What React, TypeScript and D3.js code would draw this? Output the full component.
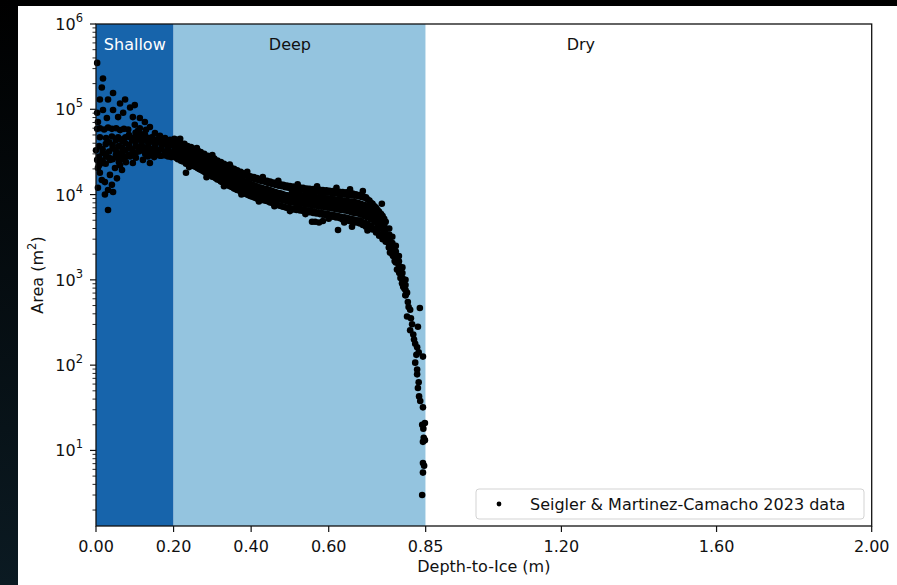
import React, { useEffect } from "react";
import * as d3 from "d3";

// zones along depth-to-ice
const zoneNames = ["Shallow", "Deep", "Dry"];
const zoneEdges = [0, 0.2, 0.85, 2.0];
const zoneLabelAt = [0.1, 0.5, 1.25];

const xTicks = [0, 0.2, 0.4, 0.6, 0.85, 1.2, 1.6, 2.0];
const yExponents = [1, 2, 3, 4, 5, 6];

const legendLabel = "Seigler & Martinez-Camacho 2023 data";

// main band: depth (m) -> areas (m^2)
const bandDepths = [
  0.008, 0.017, 0.025, 0.034, 0.043, 0.051, 0.059, 0.068, 0.076, 0.085,
  0.093, 0.102, 0.11, 0.118, 0.127, 0.135, 0.144, 0.152, 0.161, 0.169,
  0.178, 0.186, 0.194,
  0.202, 0.206, 0.211, 0.215, 0.219, 0.224, 0.228, 0.232, 0.236, 0.241,
  0.245, 0.249, 0.253, 0.258, 0.262, 0.266, 0.27, 0.275, 0.279, 0.283,
  0.288, 0.292, 0.296, 0.3, 0.305, 0.309, 0.313, 0.318, 0.322, 0.326,
  0.33, 0.335, 0.339, 0.343, 0.347, 0.352, 0.356, 0.36, 0.364, 0.369,
  0.373, 0.377, 0.381, 0.386, 0.39, 0.394, 0.398, 0.403, 0.407, 0.411,
  0.415, 0.42, 0.424, 0.428, 0.432, 0.437, 0.441, 0.445, 0.449, 0.454,
  0.458, 0.462, 0.466, 0.471, 0.475, 0.479, 0.483, 0.488, 0.492, 0.496,
  0.5, 0.505, 0.509, 0.513, 0.517, 0.522, 0.526, 0.53, 0.534, 0.539,
  0.543, 0.547, 0.551, 0.556, 0.56, 0.564, 0.568, 0.573, 0.577, 0.581,
  0.585, 0.59, 0.594, 0.598, 0.602, 0.607, 0.611, 0.615, 0.619, 0.624,
  0.628, 0.632, 0.636, 0.641, 0.645, 0.649, 0.653, 0.658, 0.662, 0.666,
  0.67, 0.675, 0.679, 0.683, 0.688, 0.692, 0.696, 0.7, 0.705, 0.709,
  0.713, 0.718, 0.722, 0.726, 0.73, 0.735, 0.739, 0.743, 0.747,
  0.756, 0.764, 0.773, 0.781, 0.79, 0.798,
];
const bandAreas = [
  [3.7e4, 2.8e4, 2.2e4], [3.4e4, 3.1e4, 2.5e4], [3.9e4, 3.0e4, 2.3e4],
  [4.1e4, 3.2e4, 2.7e4], [3.8e4, 3.5e4, 2.6e4], [4.3e4, 3.3e4, 2.9e4],
  [4.5e4, 3.7e4, 3.0e4, 2.4e4], [4.2e4, 3.5e4, 3.2e4, 2.6e4], [4.7e4, 4.0e4, 3.3e4, 2.8e4],
  [5.0e4, 3.8e4, 3.5e4, 2.9e4], [4.6e4, 4.3e4, 3.4e4, 3.0e4], [5.3e4, 4.1e4, 3.7e4, 3.1e4],
  [4.9e4, 4.5e4, 3.6e4, 3.2e4], [5.1e4, 4.2e4, 3.8e4, 3.3e4], [4.8e4, 4.4e4, 3.5e4, 3.0e4],
  [4.6e4, 4.0e4, 3.7e4, 3.2e4], [4.7e4, 4.2e4, 3.4e4, 3.0e4], [4.4e4, 3.9e4, 3.6e4, 3.1e4],
  [4.5e4, 4.1e4, 3.3e4, 2.95e4], [4.3e4, 3.7e4, 3.4e4, 2.85e4], [4.4e4, 3.9e4, 3.2e4, 2.9e4],
  [4.1e4, 3.6e4, 3.3e4, 2.8e4], [4.2e4, 3.8e4, 3.1e4, 2.75e4],
  [4.5e4, 3.9e4, 3.3e4, 2.9e4], [4.2e4, 3.6e4, 3.1e4, 2.7e4], [4.4e4, 3.5e4, 3.2e4, 2.6e4, 2.9e4],
  [3.9e4, 3.3e4, 2.75e4], [4.0e4, 3.6e4, 3.0e4, 2.5e4], [3.7e4, 3.2e4, 2.8e4, 2.45e4],
  [3.95e4, 3.3e4, 2.9e4, 2.6e4], [3.5e4, 3.1e4, 2.65e4, 2.3e4], [3.7e4, 3.25e4, 2.85e4, 2.4e4],
  [3.4e4, 3.0e4, 2.6e4, 2.25e4], [3.6e4, 3.05e4, 2.7e4, 2.35e4], [3.3e4, 2.9e4, 2.5e4, 2.2e4],
  [3.45e4, 3.0e4, 2.55e4, 2.15e4], [3.2e4, 2.75e4, 2.4e4, 2.1e4], [3.3e4, 2.85e4, 2.45e4, 2.05e4],
  [3.05e4, 2.65e4, 2.3e4, 2.0e4], [3.15e4, 2.7e4, 2.35e4, 1.95e4], [2.9e4, 2.55e4, 2.2e4, 1.9e4],
  [3.0e4, 2.6e4, 2.25e4, 1.85e4], [2.8e4, 2.4e4, 2.1e4, 1.8e4], [2.85e4, 2.5e4, 2.15e4, 1.75e4],
  [2.7e4, 2.3e4, 2.0e4, 1.7e4], [2.75e4, 2.4e4, 2.05e4, 1.68e4], [2.55e4, 2.2e4, 1.9e4, 1.62e4],
  [2.65e4, 2.3e4, 1.95e4, 1.6e4], [2.45e4, 2.1e4, 1.8e4, 1.55e4], [2.5e4, 2.15e4, 1.85e4, 1.5e4],
  [2.35e4, 2.0e4, 1.75e4, 1.48e4], [2.4e4, 2.05e4, 1.7e4, 1.42e4], [2.25e4, 1.95e4, 1.65e4, 1.4e4],
  [2.3e4, 1.9e4, 1.6e4, 1.35e4], [2.15e4, 1.85e4, 1.58e4, 1.33e4], [2.2e4, 1.8e4, 1.52e4, 1.3e4],
  [2.05e4, 1.75e4, 1.5e4, 1.27e4], [2.1e4, 1.72e4, 1.45e4, 1.24e4], [1.95e4, 1.68e4, 1.42e4, 1.22e4],
  [2.0e4, 1.62e4, 1.4e4, 1.18e4], [1.88e4, 1.6e4, 1.36e4, 1.16e4], [1.92e4, 1.55e4, 1.32e4, 1.13e4],
  [1.8e4, 1.52e4, 1.3e4, 1.12e4], [1.85e4, 1.5e4, 1.27e4, 1.08e4], [1.72e4, 1.46e4, 1.25e4, 1.06e4],
  [1.78e4, 1.42e4, 1.22e4, 1.04e4], [1.66e4, 1.4e4, 1.2e4, 1.02e4], [1.7e4, 1.38e4, 1.17e4, 1.0e4],
  [1.6e4, 1.35e4, 1.15e4, 9.8e3], [1.64e4, 1.33e4, 1.13e4, 9.6e3], [1.55e4, 1.3e4, 1.1e4, 9.5e3],
  [1.6e4, 1.28e4, 1.08e4, 9.3e3], [1.5e4, 1.26e4, 1.07e4, 9.2e3], [1.56e4, 1.24e4, 1.05e4, 9.0e3],
  [1.46e4, 1.22e4, 1.04e4, 8.9e3], [1.52e4, 1.2e4, 1.02e4, 8.8e3], [1.43e4, 1.19e4, 1.01e4, 8.7e3],
  [1.48e4, 1.17e4, 1.0e4, 8.6e3], [1.4e4, 1.16e4, 9.9e3, 8.5e3], [1.45e4, 1.15e4, 9.8e3, 8.4e3],
  [1.36e4, 1.13e4, 9.6e3, 8.3e3], [1.42e4, 1.12e4, 9.5e3, 8.1e3], [1.33e4, 1.1e4, 9.4e3, 8.0e3],
  [1.38e4, 1.08e4, 9.2e3, 7.9e3], [1.3e4, 1.07e4, 9.1e3, 7.8e3], [1.36e4, 1.05e4, 9.0e3, 7.6e3],
  [1.27e4, 1.04e4, 8.9e3, 7.5e3], [1.32e4, 1.03e4, 8.8e3, 7.4e3], [1.25e4, 1.02e4, 8.7e3, 7.3e3],
  [1.3e4, 1.0e4, 8.6e3, 7.2e3], [1.22e4, 9.9e3, 8.5e3, 7.1e3], [1.28e4, 9.8e3, 8.4e3, 7.0e3],
  [1.2e4, 9.7e3, 8.3e3, 7.0e3], [1.26e4, 9.6e3, 8.2e3, 6.9e3], [1.19e4, 1.05e4, 8.1e3, 6.8e3],
  [1.24e4, 9.5e3, 8.7e3, 6.7e3], [1.17e4, 1.02e4, 8.0e3, 6.9e3], [1.22e4, 9.3e3, 8.5e3, 6.6e3],
  [1.15e4, 1.0e4, 7.9e3, 6.8e3], [1.21e4, 9.2e3, 8.3e3, 6.5e3], [1.14e4, 9.8e3, 7.8e3, 6.7e3],
  [1.2e4, 9.1e3, 8.2e3, 6.4e3], [1.12e4, 9.7e3, 7.7e3, 6.6e3], [1.18e4, 9.0e3, 8.1e3, 6.3e3],
  [1.11e4, 9.6e3, 7.6e3, 6.5e3], [1.17e4, 8.9e3, 8.0e3, 6.2e3], [1.1e4, 9.5e3, 7.5e3, 6.4e3],
  [1.16e4, 8.8e3, 7.9e3, 6.1e3], [1.09e4, 9.4e3, 7.4e3, 6.3e3], [1.15e4, 8.7e3, 7.8e3, 6.0e3],
  [1.08e4, 9.3e3, 7.3e3, 6.2e3], [1.14e4, 8.6e3, 7.7e3, 5.9e3], [1.07e4, 9.2e3, 7.2e3, 6.1e3],
  [1.13e4, 8.5e3, 7.6e3, 5.8e3], [1.06e4, 9.1e3, 7.1e3, 6.0e3], [1.12e4, 8.4e3, 7.5e3, 5.7e3],
  [1.05e4, 9.0e3, 7.0e3, 5.9e3], [1.11e4, 8.3e3, 7.4e3, 5.6e3], [1.04e4, 8.9e3, 6.9e3, 5.8e3],
  [1.1e4, 8.2e3, 7.3e3, 5.5e3], [1.03e4, 8.8e3, 6.8e3, 5.7e3], [1.09e4, 8.1e3, 7.2e3, 5.4e3],
  [1.02e4, 8.7e3, 6.7e3, 5.6e3], [1.08e4, 8.0e3, 7.1e3, 5.3e3], [1.01e4, 8.6e3, 6.6e3, 5.5e3],
  [1.07e4, 7.9e3, 7.0e3, 5.1e3], [1.0e4, 8.5e3, 6.5e3, 5.4e3], [1.06e4, 7.8e3, 6.9e3, 5.0e3],
  [9.9e3, 8.4e3, 6.4e3, 5.3e3], [1.05e4, 7.7e3, 6.8e3, 4.9e3], [9.8e3, 8.3e3, 6.2e3, 5.2e3],
  [1.03e4, 7.6e3, 6.7e3, 4.8e3], [9.7e3, 8.2e3, 6.1e3, 5.1e3], [1.01e4, 7.4e3, 6.5e3, 4.7e3],
  [9.6e3, 8.0e3, 6.0e3, 5.0e3], [9.9e3, 7.2e3, 6.4e3, 4.6e3], [9.4e3, 7.8e3, 5.8e3, 4.9e3],
  [9.6e3, 7.0e3, 6.2e3, 4.4e3], [9.2e3, 7.6e3, 5.6e3, 4.7e3], [9.3e3, 6.8e3, 6.0e3, 4.2e3],
  [8.8e3, 7.3e3, 5.4e3, 4.5e3], [8.5e3, 6.5e3, 5.8e3, 4.1e3], [8.0e3, 6.9e3, 5.1e3, 4.3e3],
  [7.8e3, 6.1e3, 5.5e3, 3.9e3], [7.3e3, 6.4e3, 4.8e3, 4.0e3], [7.0e3, 5.6e3, 5.0e3, 3.6e3],
  [6.6e3, 5.8e3, 4.4e3, 3.7e3], [6.3e3, 5.1e3, 4.5e3, 3.3e3], [5.9e3, 5.2e3, 4.0e3, 3.4e3],
  [5.6e3, 4.6e3, 4.1e3, 3.0e3], [5.2e3, 4.5e3, 3.6e3, 3.1e3], [4.8e3, 4.0e3, 3.5e3, 2.8e3],
  [4.0e3, 3.4e3, 2.95e3, 2.5e3], [3.2e3, 2.7e3, 2.35e3, 2.0e3], [2.5e3, 2.15e3, 1.85e3, 1.6e3],
  [1.9e3, 1.65e3, 1.45e3, 1.25e3], [1.4e3, 1.2e3, 1.05e3, 910], [1.0e3, 870, 760, 660],
];

// scattered points off the band: [depth (m), area (m^2)]
const shallowScatter = [
  [0.003, 3.5e5], [0.018, 2.3e5], [0.015, 1.8e5], [0.044, 1.55e5], [0.01, 1.3e5],
  [0.031, 1.3e5], [0.075, 1.3e5], [0.062, 1.17e5], [0.1, 1.12e5], [0.018, 9.8e4],
  [0.044, 9.8e4], [0.003, 9.1e4], [0.088, 1.05e5], [0.057, 8.1e4], [0.07, 9.1e4],
  [0.095, 8.1e4], [0.113, 7.9e4], [0.005, 7.1e4], [0.028, 7.9e4], [0.126, 7.1e4],
  [0.003, 5.9e4], [0.01, 6.0e4], [0.021, 5.8e4], [0.031, 6.1e4], [0.041, 5.9e4],
  [0.052, 6.0e4], [0.062, 5.7e4], [0.072, 5.9e4], [0.083, 5.8e4],
  [0.01, 4.7e4], [0.026, 4.6e4], [0.041, 4.8e4], [0.057, 4.7e4], [0.072, 4.5e4],
  [0.088, 4.7e4], [0.103, 4.6e4], [0.119, 4.8e4],
  [0.1, 6.6e4], [0.113, 6.0e4], [0.129, 5.75e4], [0.139, 6.2e4], [0.152, 5.25e4],
  [0.165, 4.9e4], [0.178, 4.6e4], [0.191, 4.4e4], [0.144, 4.6e4], [0.126, 5.1e4], [0.108, 5.6e4],
  [0.0, 3.3e4], [0.003, 2.55e4], [0.005, 2.05e4], [0.01, 1.8e4], [0.018, 2.35e4],
  [0.023, 1.4e4], [0.023, 1.0e4], [0.031, 1.13e4], [0.031, 6.6e3], [0.041, 1.3e4],
  [0.044, 1.07e4], [0.036, 1.7e4], [0.054, 1.55e4], [0.049, 2.05e4], [0.062, 2.2e4],
  [0.067, 1.94e4], [0.077, 2.4e4], [0.095, 2.35e4], [0.121, 2.55e4], [0.139, 2.35e4],
  [0.015, 1.48e4], [0.005, 1.2e4], [0.036, 2.55e4], [0.057, 2.7e4],
  [0.026, 2.8e4], [0.072, 2.75e4], [0.088, 2.8e4], [0.103, 2.7e4], [0.134, 2.8e4],
  [0.15, 2.75e4], [0.165, 2.85e4], [0.18, 2.9e4],
];
const deepScatter = [
  [0.232, 1.8e4], [0.557, 4.8e3], [0.565, 4.8e3], [0.575, 4.7e3], [0.585, 4.9e3],
  [0.624, 3.85e3], [0.66, 4.2e3], [0.688, 1.1e4], [0.737, 7.8e3],
  [0.217, 4.5e4], [0.26, 3.5e4], [0.3, 2.9e4], [0.345, 2.25e4], [0.39, 1.85e4],
  [0.43, 1.6e4], [0.47, 1.45e4], [0.52, 1.32e4], [0.57, 1.25e4], [0.62, 1.2e4], [0.655, 1.15e4],
  [0.24, 2.1e4], [0.285, 1.6e4], [0.33, 1.25e4], [0.375, 1.0e4], [0.42, 8.3e3],
  [0.46, 7.3e3], [0.5, 6.4e3], [0.54, 5.9e3], [0.6, 5.2e3], [0.64, 4.7e3], [0.7, 3.8e3],
];
const tailScatter = [
  [0.748, 3310], [0.752, 2820], [0.755, 2400], [0.758, 2090], [0.762, 2290],
  [0.766, 1910], [0.77, 1660], [0.773, 1820], [0.776, 1320], [0.779, 1580],
  [0.782, 1200], [0.785, 1050], [0.789, 912], [0.792, 832], [0.795, 794],
  [0.798, 661], [0.802, 708], [0.804, 550], [0.806, 479], [0.802, 372],
  [0.81, 447], [0.812, 355], [0.81, 257], [0.815, 302], [0.818, 229],
  [0.82, 200], [0.823, 178], [0.828, 162], [0.823, 107], [0.826, 132],
  [0.83, 282], [0.835, 468], [0.832, 141], [0.843, 126], [0.828, 89],
  [0.828, 78], [0.832, 63], [0.83, 54], [0.833, 43], [0.836, 38],
  [0.843, 32], [0.841, 20], [0.848, 21], [0.844, 18], [0.843, 12.6],
  [0.848, 13.2], [0.845, 14.1], [0.843, 7.1], [0.846, 6.6], [0.843, 5.5], [0.841, 3.0],
];

const W = 897;
const H = 585;
const font = "'DejaVu Sans', sans-serif";
const zoneFills = ["#1764ab", "#94c4df", "#ffffff"];
const zoneText = ["#ffffff", "#111111", "#111111"];

export default function App() {
  useEffect(() => {
    document.body.style.margin = "0";
  }, []);

  const x = d3.scaleLinear().domain([0, 2]).range([96, 871.7]);
  const y = d3.scaleLog().domain([1.3, 1e6]).range([526, 24]);
  const [y0, y1] = y.range();

  const points = bandDepths
    .flatMap((d, i) => bandAreas[i].map((a) => [d, a]))
    .concat(shallowScatter, deepScatter, tailScatter);

  const minor: number[] = [];
  for (let k = 0; k <= 5; k++) {
    for (let m = 2; m <= 9; m++) {
      const v = m * Math.pow(10, k);
      if (v >= 1.3 && v <= 1e6) minor.push(v);
    }
  }

  return (
    <svg width={W} height={H} style={{ display: "block", fontFamily: font }}>
      <defs>
        <linearGradient id="bg" x1="0" y1="0" x2="0" y2="1">
          <stop offset="0" stopColor="#000000" />
          <stop offset="1" stopColor="#0b1a22" />
        </linearGradient>
      </defs>
      <rect x={0} y={0} width={W} height={H} fill="url(#bg)" />
      <rect x={18} y={6} width={W - 18} height={H - 6} fill="#ffffff" />

      {zoneNames.map((n, i) => (
        <rect
          key={n}
          x={x(zoneEdges[i])}
          y={y1}
          width={x(zoneEdges[i + 1]) - x(zoneEdges[i])}
          height={y0 - y1}
          fill={zoneFills[i]}
        />
      ))}
      {zoneNames.map((n, i) => (
        <text key={n} x={x(zoneLabelAt[i])} y={50} textAnchor="middle" fontSize={16} fill={zoneText[i]}>
          {n}
        </text>
      ))}

      <g>
        {points.map((p, i) => (
          <circle key={i} cx={x(p[0])} cy={y(p[1])} r={3.3} fill="#000000" />
        ))}
      </g>

      {/* legend */}
      <rect x={476} y={489} width={388} height={30} rx={3} fill="#ffffff" fillOpacity={0.8} stroke="#d3d3d3" />
      <circle cx={499} cy={504} r={2.4} fill="#000000" />
      <text x={530} y={510} fontSize={16} fill="#111111">{legendLabel}</text>

      {/* frame */}
      <rect x={x(0)} y={y1} width={x(2) - x(0)} height={y0 - y1} fill="none" stroke="#111111" strokeWidth={1.3} />

      {/* x axis */}
      {xTicks.map((t) => (
        <g key={t} transform={`translate(${x(t)},${y0})`}>
          <line y2={6} stroke="#111111" strokeWidth={1.2} />
          <text y={26} textAnchor="middle" fontSize={16} fill="#111111">{t.toFixed(2)}</text>
        </g>
      ))}
      <text x={(x(0) + x(2)) / 2} y={572} textAnchor="middle" fontSize={16} fill="#111111">Depth-to-Ice (m)</text>

      {/* y axis */}
      {minor.map((v) => (
        <line key={v} x1={x(0) - 3.5} x2={x(0)} y1={y(v)} y2={y(v)} stroke="#111111" strokeWidth={0.9} />
      ))}
      {yExponents.map((e) => (
        <g key={e} transform={`translate(${x(0)},${y(Math.pow(10, e))})`}>
          <line x2={-6} stroke="#111111" strokeWidth={1.2} />
          <text x={-13} y={6} textAnchor="end" fontSize={16} fill="#111111">
            10<tspan fontSize={11.5} dy={-8}>{e}</tspan>
          </text>
        </g>
      ))}
      <text transform={`translate(43,${(y0 + y1) / 2}) rotate(-90)`} textAnchor="middle" fontSize={16} fill="#111111">
        Area (m<tspan fontSize={11.5} dy={-7}>2</tspan><tspan dy={7}>)</tspan>
      </text>
    </svg>
  );
}
